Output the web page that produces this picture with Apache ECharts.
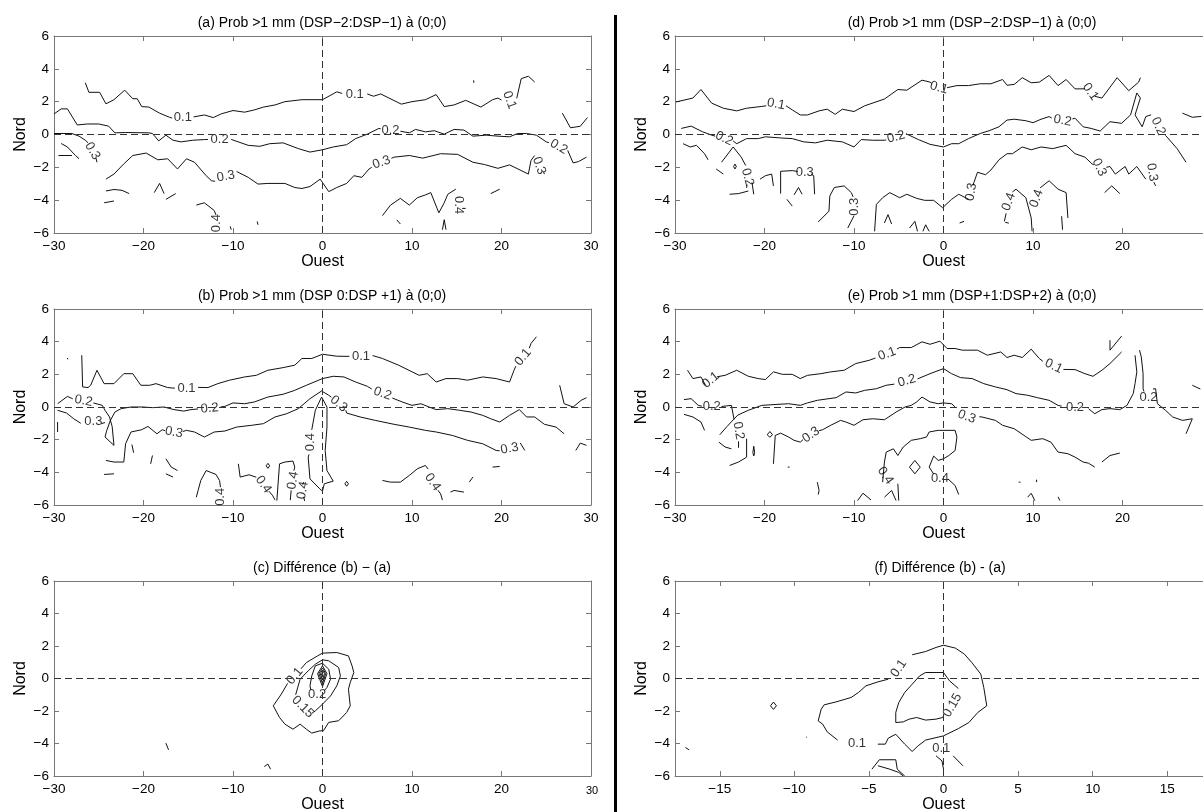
<!DOCTYPE html>
<html><head><meta charset="utf-8">
<script src="https://cdn.jsdelivr.net/npm/echarts@6/dist/echarts.min.js"></script>
<style>html,body{margin:0;padding:0;background:#fff}#c{width:1203px;height:812px}</style>
</head><body><div id="c"></div>
<script>
// ---------- tick labels ----------
const X_TICKS_WIDE = [-30,-20,-10,0,10,20,30];
const X_TICKS_F = [-15,-10,-5,0,5,10,15];
const Y_TICKS = [-6,-4,-2,0,2,4,6];

// ---------- titles ----------
const TITLE_A = '(a) Prob >1 mm (DSP\u22122:DSP\u22121) \u00e0 (0;0)';
const TITLE_B = '(b) Prob >1 mm (DSP 0:DSP +1) \u00e0 (0;0)';
const TITLE_C = '(c) Diff\u00e9rence (b) \u2212 (a)';
const TITLE_D = '(d) Prob >1 mm (DSP\u22122:DSP\u22121) \u00e0 (0;0)';
const TITLE_E = '(e) Prob >1 mm (DSP+1:DSP+2) \u00e0 (0;0)';
const TITLE_F = '(f) Diff\u00e9rence (b) - (a)';

// ---------- panel (a) contour segments [x (Ouest), y (Nord)] ----------
const A_01 = [
 [[-26.5,3.15],[-26.1,2.57],[-24.9,2.57],[-24.2,1.87],[-23.3,2.12],[-22.1,2.7],[-21.2,2.18],[-20.7,2.18],[-20.2,1.7],[-19.4,1.67],[-18.2,1.3],[-17.1,1.05],[-16.8,1.0]],
 [[-14.4,1.07],[-13.2,1.19],[-12.2,1.03],[-11.3,1.26],[-10,1.46],[-8.7,1.36],[-7.6,1.5],[-6.6,1.67],[-5.3,1.8],[-4.2,2.0],[-2.3,2.12],[0,2.12],[1.6,2.6],[2.2,2.5]],
 [[5.0,2.47],[5.7,2.33],[6.5,2.47],[8.8,1.85],[10,2.0],[11.5,2.12],[12.7,2.43],[13.6,1.7],[14.7,1.8],[16,2.08],[17.7,1.67],[19,2.12],[19.6,2.22],[20.0,2.1]],
 [[21.7,2.2],[22.2,3.4],[23,3.55],[23.7,3.2]],
 [[26.8,1.3],[27.7,0.41],[28.8,0.5],[29.6,1.03]],
 [[16.9,3.3],[16.9,3.15]]
];
const A_02 = [
 [[-30,1.25],[-29.2,1.56],[-28.5,1.56],[-27.4,0.58],[-26.3,0.64],[-25,0.64],[-23.9,0.51],[-23.2,0.1],[-22,0.12],[-19.4,0.1],[-19,0.06],[-18.3,-0.39],[-17.5,-0.04],[-16.7,-0.35],[-15.8,-0.45],[-14.5,-0.35],[-13.2,-0.31],[-12.8,-0.3]],
 [[-10.2,-0.3],[-10,-0.31],[-8.3,-0.66],[-7,-0.72],[-5.9,-0.56],[-4.4,-0.51],[-2.7,-0.86],[-1.4,-1.07],[0,-0.93],[1.2,-0.76],[2.7,-0.62],[3.7,-0.25],[5,0.02],[6.3,0.37],[6.5,0.35]],
 [[8.7,0.2],[9.7,0.1],[10.4,0.31],[11.5,0.16],[12.5,0.23],[13.6,0.02],[14.7,0.31],[15.8,0.27],[16.8,-0.1],[18.3,-0.04],[19.6,-0.1],[20.9,-0.14],[21.8,0.06],[22.8,0.06],[23.9,-0.04],[25,-0.45],[25.3,-0.5]],
 [[27.4,-0.97],[28,-1.73],[28.6,-1.65],[29.5,-1.38]]
];
const A_03 = [
 [[-30,0.06],[-28,0.06],[-27.2,-0.1],[-26.5,-0.35],[-26.2,-0.5]],
 [[-25.3,-1.45],[-25.2,-1.69]],
 [[-29.2,-0.55],[-28.5,-0.76],[-27.6,-1.28],[-27.2,-1.48]],
 [[-29.5,-1.28],[-28,-1.28]],
 [[-24.2,-2.72],[-23.3,-2.41],[-22.2,-1.79],[-21.2,-1.28],[-19.7,-1.13],[-18.4,-1.54],[-17.3,-1.48],[-16.2,-2.1],[-15.2,-1.48],[-14.3,-1.69],[-13,-2.51],[-12.4,-2.82],[-12.0,-2.85]],
 [[-9.6,-2.25],[-9.4,-2.2],[-8.3,-2.61],[-7.2,-3.02],[-6.1,-2.98],[-4.2,-2.98],[-3.1,-3.23],[-2.3,-3.29],[-1.4,-3.17],[-0.26,-2.72],[0.7,-3.48],[1.6,-3.23],[2.7,-2.98],[3.5,-2.51],[4.4,-2.61],[5.2,-2.1],[5.5,-2.0]],
 [[7.7,-1.45],[8,-1.38],[9.7,-1.28],[11.2,-1.44],[13.2,-1.17],[15.1,-1.21],[16.8,-1.69],[18.1,-1.83],[19.6,-2.06],[20.9,-1.85],[23,-2.41],[23.3,-1.58],[23.7,-1.28]],
 [[24.7,-2.3],[24.8,-2.41]],
 [[-24.2,-3.44],[-23.3,-3.35],[-22.4,-3.4],[-21.6,-3.6]],
 [[-24.4,-4.16],[-23.3,-4.05]],
 [[-18.8,-3.54],[-18.2,-2.98],[-17.7,-3.6]],
 [[-17.5,-3.95],[-16.4,-3.6]],
 [[18.8,-3.6],[19.8,-3.33]]
];
const A_04 = [
 [[-14.1,-4.3],[-13.2,-4.16],[-12.1,-4.63],[-11.9,-4.9]],
 [[-10.3,-5.6],[-10.2,-5.8]],
 [[-7.3,-5.3],[-7.2,-5.5]],
 [[6.7,-4.94],[7.6,-4.3],[8.7,-3.89],[9.7,-4.3],[10.6,-3.85],[11.5,-3.68],[12.1,-3.54],[13,-4.77],[13.6,-4.16],[14,-3.64],[14.9,-3.33]],
 [[15.6,-4.5],[16.0,-4.5]],
 [[8.3,-5.2],[8.7,-5.45]],
 [[13.4,-5.8],[13.6,-5.19],[13.8,-5.8]]
];
const A_LABELS = [
 [-15.6,1.02,'0.1',0],[3.6,2.45,'0.1',0],[20.9,2.1,'0.1',-70],
 [-11.5,-0.32,'0.2',0],[7.6,0.25,'0.2',0],[26.4,-0.75,'0.2',-30],
 [-25.7,-1.0,'0.3',-60],[-10.8,-2.55,'0.3',10],[6.6,-1.7,'0.3',20],[24.2,-1.9,'0.3',-70],
 [-11.8,-5.4,'0.4',90],[15.2,-4.3,'0.4',-90]
];

// ---------- panel (b) ----------
const B_01 = [
 [[-26.9,3.17],[-26.8,1.23],[-26.2,1.19],[-25.9,1.33],[-25.2,2.25],[-24.4,1.43],[-23.3,1.43],[-22.2,2.04],[-21.2,2.04],[-20.3,1.33],[-19.3,1.33],[-18.6,1.43],[-17.3,1.19],[-16.5,1.15]],
 [[-13.9,1.2],[-12.8,1.19],[-11.7,1.43],[-10.4,1.64],[-8.7,1.84],[-7.4,1.94],[-6.1,2.25],[-4.4,2.41],[-3.1,2.56],[-2.3,2.97],[-1.2,2.97],[0,3.23],[1.6,3.11],[3.0,3.1]],
 [[5.6,3.15],[6.7,2.97],[8.5,2.56],[10.8,1.94],[11.7,2.04],[12.7,1.53],[13.8,1.74],[15.1,1.74],[16.2,1.64],[17.9,1.84],[19.4,1.74],[20.9,1.53],[21.4,2.25],[21.6,2.5]],
 [[23.1,3.6],[23.3,3.89],[23.9,4.3]],
 [[-28.5,3.0],[-28.45,2.92]],
 [[26.5,1.33],[27,0.2],[28,0],[28.9,0.41],[29.5,0.57]]
];
const B_02 = [
 [[-29.6,0.2],[-28.5,0.65],[-27.9,0.5]],
 [[-25.6,0.25],[-24.6,0.1],[-24.3,-0.2],[-23.8,-0.61],[-23.5,-1.2],[-23.3,-2.35],[-24.3,-1.84],[-24.1,-1.43],[-23.7,-0.82],[-23.2,-0.31],[-22.5,-0.1],[-21.4,0],[-20.1,0],[-19,-0.04],[-17.7,0],[-16.6,-0.16],[-15.5,-0.25],[-14.7,-0.16],[-13.9,-0.12]],
 [[-11.4,0],[-10.9,0.04],[-10,0.25],[-8.7,0.2],[-7.6,0.31],[-6.1,0.61],[-4.4,0.78],[-3.1,1.02],[-1.8,1.33],[0,1.74],[1.2,1.88],[2.4,1.84],[3.7,1.53],[5,1.27],[5.5,1.1]],
 [[7.8,0.55],[8.9,0.31],[10,0.1],[11,0.2],[11.9,0],[12.7,-0.16],[14,-0.1],[15.3,-0.2],[16.6,-0.31],[17.9,-0.51],[18.8,-0.72],[19.8,-0.92],[20.9,-0.51],[22,-0.16],[22.8,-0.61],[23.7,-0.61],[24.8,-1.06],[26.1,-1.23],[27,-1.64]]
];
const B_03 = [
 [[-29.6,-0.2],[-28.6,-0.37],[-27.8,-0.72],[-27.0,-1.0]],
 [[-24.7,-1.02],[-24.3,-0.95]],
 [[-24.2,-3.27],[-23.3,-3.37],[-22.2,-3.37],[-22,-2.25],[-21.4,-1.53],[-20.2,-1.39],[-19.5,-1.19],[-18.5,-1.64],[-17.9,-1.39],[-17.6,-1.45]],
 [[-15.6,-1.5],[-15.2,-1.43],[-14.3,-1.53],[-13.2,-1.84],[-12.1,-1.53],[-10.9,-1.47],[-9.6,-1.23],[-7.9,-1.12],[-6.6,-1.02],[-5.3,-0.61],[-4,-0.41],[-2.7,-0.1],[-1.4,0.51],[-0.1,0.98],[0.7,0.72],[1.0,0.6]],
 [[2.6,-0.2],[2.7,-0.37],[4.2,-0.61],[5.9,-0.82],[8,-1.06],[9.7,-1.23],[11.5,-1.43],[12.7,-1.53],[14.5,-1.74],[16.2,-2.04],[17.9,-2.25],[19.4,-2.66],[19.8,-2.68]],
 [[22.1,-2.2],[22.6,-2.66]],
 [[28.3,-2.66],[28.8,-2.21],[29.5,-2.35]],
 [[-29.6,-0.92],[-29.6,-1.53]],
 [[-21.3,-2.3],[-21.1,-2.8]],
 [[-19,-2.97],[-19.2,-3.48]],
 [[-17.5,-3.17],[-16.9,-3.68],[-16.2,-3.89]],
 [[-17.5,-4.09],[-16.7,-4.29]],
 [[-24.4,-4.13],[-23.3,-4.09]]
];
const B_04 = [
 [[-0.1,0.61],[-0.8,-0.2],[-1.2,-1.4]],
 [[-1.5,-2.9],[-1.6,-3.07],[-1.4,-4.4],[-0.3,-5.01],[0,-5.15],[0.2,-4.7],[1.2,-4.54],[0.5,-3.89],[0.3,-2.66],[0.5,-1.23],[0.5,0],[-0.1,0.61]],
 [[-14.1,-5.52],[-13.9,-5.11],[-13.6,-4.5],[-13,-3.89],[-11.9,-4.13],[-11.5,-4.5],[-11.4,-4.91]],
 [[-9.4,-3.48],[-9.2,-4.29],[-8.2,-4.15],[-7.4,-4.3]],
 [[-6.0,-5.15],[-5.6,-5.4],[-5.3,-5.69]],
 [[-6.3,-3.6],[-6.1,-3.45],[-5.9,-3.6],[-6.1,-3.75],[-6.3,-3.6]],
 [[-5.1,-5.73],[-4.8,-3.48],[-4.2,-3.37],[-3.3,-3.31],[-3.1,-3.68],[-3.2,-3.9]],
 [[-3.5,-5.1],[-3.6,-5.7]],
 [[-2.1,-4.6],[-2.2,-4.75]],
 [[-2.1,-5.5],[-2.0,-5.75]],
 [[2.5,-4.7],[2.7,-4.55],[2.9,-4.7],[2.7,-4.85],[2.5,-4.7]],
 [[6.7,-4.5],[7.6,-4.6],[8.7,-4.6],[9.7,-4.19],[10.6,-3.78],[11.5,-3.58],[11.8,-3.8]],
 [[12.9,-5.1],[13.2,-5.32],[13.4,-5.7]],
 [[14.3,-5.21],[14.7,-5.11],[15.8,-5.21]],
 [[16.4,-4.6],[16.8,-4.29]],
 [[19,-3.68],[19.8,-3.64]]
];
const B_LABELS = [
 [-15.2,1.12,'0.1',0],[4.3,3.12,'0.1',0],[22.4,3.05,'0.1',50],
 [-26.7,0.38,'0.2',-10],[-12.6,-0.08,'0.2',5],[6.7,0.82,'0.2',-20],
 [-25.6,-0.9,'0.3',0],[-16.6,-1.55,'0.3',-10],[1.8,0.2,'0.3',-40],[20.9,-2.55,'0.3',10],
 [-1.35,-2.15,'0.4',90],[-11.4,-5.5,'0.4',90],[-6.6,-4.75,'0.4',-55],[-3.3,-4.5,'0.4',80],[-2.2,-5.1,'0.4',80],[12.3,-4.6,'0.4',-55]
];

// ---------- panel (c) ----------
const C_010 = [
 [[-5.5,-1.68],[-4.6,-0.96],[-3.9,-0.3]],
 [[-2.4,0.6],[-1.8,0.98],[-0.56,1.39],[0,1.56],[1.6,1.6],[2.9,1.39],[3.3,0.78],[3.5,0.37],[3.1,-0.25],[2.9,-0.66],[3.1,-1.68],[2.7,-2.09],[1.8,-2.6],[0.7,-2.7],[0.1,-3.22],[-0.3,-3.22],[-1.2,-3.36],[-1.8,-3.12],[-2.5,-2.81],[-3.3,-3.12],[-4.2,-2.81],[-4.8,-2.4],[-5.5,-1.68]],
 [[-17.5,-3.98],[-17.2,-4.39]],
 [[-6.5,-5.42],[-6.1,-5.27],[-5.8,-5.58]]
];
const C_015 = [
 [[-3.0,-1.0],[-2.5,-0.04],[-1.6,0.47],[-0.8,0.88],[0,1.15],[0.7,1.09],[1.8,0.68],[2,0.16],[1.6,-0.45],[0.9,-1.07],[0,-1.58],[-0.8,-1.99],[-1.2,-2.15]]
];
const C_020 = [
 [[-1.3,-0.7],[-1.4,-0.45],[-1.2,0.16],[-0.8,0.78],[0,0.94],[0.7,0.57],[0.9,-0.04],[0.5,-0.55],[0.2,-0.75]],
 [[-0.55,0.3],[0,0.78],[0.5,0.3],[0,-0.5],[-0.55,0.3]],
 [[-0.4,0.3],[0,0.65],[0.35,0.3],[0,-0.3],[-0.4,0.3]],
 [[-0.25,0.3],[0,0.52],[0.22,0.3],[0,-0.1],[-0.25,0.3]],
 [[-0.1,0.3],[0,0.4],[0.1,0.3],[0,0.12],[-0.1,0.3]]
];
const C_LABELS = [
 [-3.1,0.15,'0.1',50],[-0.6,-1.0,'0.2',0],[-2.2,-1.75,'0.15',-45]
];

// ---------- panel (d) ----------
const D_01 = [
 [[-29.9,1.98],[-28,2.22],[-27.1,2.74],[-25.9,1.91],[-24.6,1.6],[-23.1,1.44],[-22,1.6],[-20.3,1.71],[-19.8,1.75]],
 [[-17.6,1.75],[-16.9,1.5],[-16,1.19],[-15.2,1.19],[-13.9,1.44],[-13,1.54],[-12.1,1.23],[-11.3,1.54],[-10,1.4],[-8.8,1.75],[-6.6,2.16],[-5.1,2.74],[-4.1,2.7],[-2.4,3.31],[-1.5,3.19],[-1.3,3.1]],
 [[0.4,2.85],[1.5,2.98],[2.8,2.98],[4.1,3.09],[5.3,3.09],[6.6,3.35],[7.1,3.0],[7.9,3.05],[8.8,3.46],[9.8,3.15],[10.7,3.19],[11.8,3.6],[12.8,2.98],[13.7,3.35],[14.7,2.78],[15.6,2.78],[15.8,2.8]],
 [[16.9,2.33],[17.7,2.22],[19.4,3.46],[20.7,2.67],[21.8,3.19],[22,3.46]],
 [[26.7,1.3],[27.8,1.05],[28.8,1.1]]
];
const D_02 = [
 [[-29.3,0.37],[-28.2,0.51],[-26.9,0.16],[-25.9,-0.04],[-25.5,-0.1]],
 [[-23.5,-0.4],[-23.1,-0.56],[-22,-0.25],[-20.7,-0.25],[-19.9,-0.14],[-18.2,-0.21],[-16.9,-0.25],[-15.6,-0.45],[-14.3,-0.51],[-13,-0.35],[-11.3,-0.45],[-10,-0.76],[-9.2,-0.31],[-7.9,-0.35],[-6.6,-0.35],[-6.4,-0.33]],
 [[-4.2,0.05],[-2.8,-0.31],[-1.5,-0.6],[0,-0.76],[0.9,-0.56],[1.7,-0.56],[2.8,-0.25],[4.1,0.06],[5.1,0.23],[6.2,0.47],[7.1,0.88],[7.9,0.93],[9.2,0.84],[10,0.72],[10.9,0.93],[11.8,1.09],[12.1,1.0]],
 [[14.4,0.95],[14.7,0.99],[15.6,0.47],[16.5,0.37],[17.5,0.21],[18.6,0.78],[19.9,0.68],[20.9,1.19],[21.6,2.53],[22,2.22],[21.4,1.19],[22.2,0.47],[22.6,1.09],[23.2,1.2]],
 [[24.8,-0.05],[25,-0.14],[26.1,-0.86],[27.1,-1.69]],
 [[-29.1,-0.56],[-28.3,-0.76],[-27.6,-0.66],[-26.7,-1.17],[-26.3,-1.54]],
 [[-25.4,-2.1],[-24.6,-2.41]],
 [[-24.8,-1.69],[-23.5,-0.76],[-22.6,-1.38],[-22.1,-1.89]],
 [[-23.9,-3.64],[-22.9,-3.6],[-21.8,-3.44]],
 [[-21.95,-3.05],[-22.0,-3.25]],
 [[-23.3,-1.8],[-23.15,-1.95],[-23.3,-2.1],[-23.45,-1.95],[-23.3,-1.8]],
 [[-21.4,-2.92],[-21.2,-3.64]],
 [[-20.5,-2.72],[-19.9,-2.51],[-19.2,-2.41],[-19,-3.13]]
];
const D_03 = [
 [[-18.2,-3.6],[-18.2,-2.24],[-16.9,-2.2],[-16.3,-2.25]],
 [[-14.8,-2.4],[-14.5,-2.51],[-14.4,-3.64]],
 [[-17.5,-3.95],[-16.9,-4.36]],
 [[-16.7,-3.68],[-16.2,-3.23],[-15.8,-3.64]],
 [[-14,-5.33],[-12.8,-4.67],[-12.7,-3.74],[-12.2,-3.23],[-11.1,-3.13],[-10.3,-3.54],[-10.1,-3.8]],
 [[-10.0,-4.95],[-10.7,-5.7]],
 [[-7.7,-5.9],[-7.5,-4.26],[-6.8,-3.85],[-6,-3.54],[-4.9,-3.85],[-4.1,-3.64],[-3,-3.89],[-2.1,-4.01],[-1.1,-4.01],[-0.1,-4.46],[0.9,-3.95],[1.7,-3.64],[2.6,-3.89],[2.8,-3.95]],
 [[3.3,-3.1],[3.4,-2.92],[3.8,-2.3],[4.7,-2.45],[5.3,-2.16],[6.2,-1.54],[7.1,-1.17],[7.7,-1.17],[8.8,-0.76],[9.8,-0.93],[10.9,-0.76],[12.2,-0.86],[13.7,-0.66],[14.7,-1.17],[15.8,-1.38],[16.6,-1.79],[16.8,-1.85]],
 [[18.2,-2.0],[18.6,-1.95],[19.2,-2.41],[20.3,-1.95],[20.7,-2.41],[21.6,-1.95],[22.6,-2.72]],
 [[23.5,-2.9],[23.7,-3.13]],
 [[-6.6,-5.39],[-6.2,-4.88],[-5.8,-5.45]],
 [[-3.8,-5.7],[-3.2,-5.29],[-2.9,-5.9]],
 [[-2.3,-5.9],[-2.0,-5.5],[-1.6,-5.9]],
 [[18,-3.54],[18.8,-3.13],[19.7,-3.6]]
];
const D_04 = [
 [[6.8,-5.29],[7.0,-4.8]],
 [[7.7,-3.5],[8.1,-3.33],[9.2,-3.85],[9.8,-5.08],[9.9,-5.9]],
 [[10.8,-3.25],[11.8,-2.82],[12.8,-3.33],[13.7,-3.54],[13.9,-5.08]],
 [[13.2,-4.98],[13.3,-5.8]],
 [[1.8,-5.39],[2.3,-5.29]],
 [[6.9,-5.35],[7.3,-5.4]]
];
const D_LABELS = [
 [-18.7,1.85,'0.1',-10],[-0.5,2.85,'0.1',-15],[16.4,2.6,'0.1',-55],
 [-24.5,-0.25,'0.2',-25],[-5.3,-0.15,'0.2',15],[13.3,0.85,'0.2',-10],[24.0,0.5,'0.2',-65],[-21.9,-2.6,'0.2',-75],
 [-15.5,-2.3,'0.3',0],[-10.0,-4.4,'0.3',90],[3.1,-3.5,'0.3',80],[17.4,-2.0,'0.3',-65],[23.3,-2.3,'0.3',-80],
 [7.3,-4.1,'0.4',70],[10.4,-3.9,'0.4',70]
];

// ---------- panel (e) ----------
const E_01 = [
 [[-28.6,2.25],[-28,1.74],[-27.1,1.84],[-26.6,1.35]],
 [[-25.3,1.85],[-24.4,1.94],[-23.1,2.25],[-21.8,1.88],[-20.7,1.74],[-19.9,1.68],[-19,2.15],[-18,2.0],[-16.9,2.0],[-16,1.74],[-15.2,1.94],[-13.7,2.04],[-12.6,2.15],[-11.1,2.25],[-9.8,2.66],[-8.3,2.86],[-7.6,3.0]],
 [[-5.2,3.55],[-4.9,3.64],[-3.6,3.64],[-2.4,3.99],[-1.5,3.84],[-0.4,4.03],[0.4,3.58],[1.3,3.58],[2.1,3.48],[3.8,3.48],[4.9,3.17],[6.4,3.37],[7.1,3.03],[7.9,3.17],[8.8,3.03],[9.8,3.54],[10.7,2.97],[11.1,2.8]],
 [[13.4,2.3],[14.7,2.29],[15.8,2.04],[16.7,1.88],[17.7,2.25],[18.6,2.66],[19.9,3.37]],
 [[18.6,4.09],[18.6,3.48],[19.9,4.34]]
];
const E_02 = [
 [[-29,0.45],[-28.2,0.51],[-27.4,0.1],[-27.0,0.05]],
 [[-24.8,0.03],[-23.7,0.1],[-23.4,-0.75]],
 [[-22.9,-2.1],[-22.9,-2.5]],
 [[-25.0,-1.7],[-24.2,-1.2],[-23.0,-0.5],[-21.8,-0.2],[-20.3,0.1],[-18.6,0.16],[-17.3,0.2],[-16,0.1],[-15.2,0.25],[-14.1,0.41],[-12.8,0.51],[-12,0.57],[-10.9,0.92],[-9.8,0.86],[-8.8,1.02],[-7.5,1.12],[-6.4,1.33],[-5.5,1.4]],
 [[-2.9,1.72],[-1.5,2.04],[0,2.35],[0.9,2.04],[1.9,1.8],[3.2,1.74],[4.5,1.43],[5.8,1.23],[7.1,1.06],[8.1,0.82],[9.4,0.72],[10.5,0.57],[11.8,0.41],[12.8,0.1],[13.2,0.05]],
 [[16.2,-0.1],[16.9,-0.41],[17.7,-0.16],[18.6,-0.1],[19.7,-0.16],[20.5,0.1],[21.2,0.82],[21.4,1.43],[21.6,2.15],[21.4,3.17]],
 [[21.9,3.48],[22.1,3.07],[22.3,2.04],[22.3,1.12],[22.4,0.95]],
 [[23.4,1.1],[23.7,1.12],[23.9,0.2],[24.8,-0.2],[25.6,-0.61],[26.7,-0.82],[27.8,-0.72],[27.1,-1.64]],
 [[27.8,1.33],[28.7,1.1]]
];
const E_03 = [
 [[-29,-0.45],[-28,-0.61],[-27.1,-0.92],[-26.7,-1.43]],
 [[-25.1,-2.15],[-24.4,-2.45],[-23.7,-2.56]],
 [[-23.9,-3.58],[-22.9,-3.37],[-22,-3.07],[-22,-1.94]],
 [[-21.3,-2.8],[-21.2,-2.4],[-21.1,-2.8],[-21.2,-3.0],[-21.3,-2.8]],
 [[-19.7,-1.7],[-19.4,-1.5],[-19.1,-1.7],[-19.4,-1.85],[-19.7,-1.7]],
 [[-19,-3.48],[-18.8,-1.74],[-18.2,-1.6],[-17.3,-1.84],[-16.7,-2.04],[-16,-2.15],[-15.7,-2.0]],
 [[-13.9,-1.45],[-13.5,-1.39],[-12.6,-1.12],[-11.5,-0.82],[-10.9,-0.92],[-10,-1.12],[-9,-0.78],[-7.9,-0.72],[-6.6,-0.78],[-5.3,-0.31],[-4.3,0],[-3.6,0.1],[-3,0.31],[-2.4,0.61],[-1.5,0.31],[-0.6,0.2],[0,0.25],[0.9,0.2],[1.3,0.0]],
 [[4.0,-0.6],[4.3,-0.61],[5.8,-0.82],[6.6,-1.12],[7.9,-1.33],[9,-1.74],[9.8,-2.04],[11.1,-1.94],[12,-2.15],[12.8,-2.76],[13.9,-2.86],[14.7,-3.07],[15.6,-3.37],[16.2,-3.44],[16.9,-3.68]],
 [[17.7,-3.37],[18.6,-2.97],[19.7,-2.82]]
];
const E_04 = [
 [[-6.8,-4.6],[-6.6,-3.37],[-6.4,-2.76],[-5.6,-2.56],[-5.1,-2.97],[-4.5,-2.45],[-3.6,-2.04],[-2.6,-1.94],[-1.9,-1.84],[-1.6,-1.53],[-0.6,-1.43],[1.3,-1.43],[1.5,-1.84],[1.3,-2.66],[0.6,-2.97],[0,-3.17],[-0.6,-3.27],[-1.1,-3.0],[-1.6,-3.68],[-1.1,-4.1]],
 [[0.5,-4.4],[1.3,-4.81],[1.7,-5.36]],
 [[-3.8,-3.68],[-3.2,-3.27],[-2.6,-3.68],[-3.2,-4.09],[-3.8,-3.68]],
 [[-14.1,-4.6],[-13.9,-5.11],[-14,-5.36]],
 [[-9.6,-5.73],[-9,-5.28],[-8.1,-5.69]],
 [[-6.6,-5.52],[-5.8,-5.11],[-5.3,-5.73]],
 [[-5.1,-4.7],[-5.0,-5.73]],
 [[9.4,-5.52],[9.8,-5.28],[10.2,-5.73]],
 [[12.8,-5.5],[13.0,-5.73]],
 [[-17.4,-3.68],[-17.3,-3.62],[-17.2,-3.68],[-17.3,-3.74],[-17.4,-3.68]],
 [[8.4,-4.6],[8.5,-4.55],[8.6,-4.6],[8.5,-4.65],[8.4,-4.6]],
 [[10.4,-4.45],[10.4,-4.6]]
];
const E_LABELS = [
 [-26.0,1.65,'0.1',40],[-6.3,3.25,'0.1',20],[12.3,2.5,'0.1',-25],
 [-25.9,0.02,'0.2',0],[-22.9,-1.45,'0.2',-80],[-4.1,1.6,'0.2',15],[14.7,0.0,'0.2',0],[22.9,0.6,'0.2',0],
 [-14.8,-1.7,'0.3',35],[2.6,-0.6,'0.3',-20],
 [-6.5,-4.2,'0.4',-55],[-0.4,-4.35,'0.4',0]
];

// ---------- panel (f) ----------
const F_010 = [
 [[-2.1,1.46],[-1.2,1.66],[-0.5,1.91],[0,2.05],[0.8,1.87],[1.4,1.5],[1.9,0.98],[2.5,0.27],[2.7,-0.55],[2.9,-1.68],[2.3,-2.09],[1.7,-2.71],[1,-3.08],[0,-3.53],[-1.2,-3.79],[-1.7,-4.14],[-2.1,-4.49],[-2.6,-4.04],[-3.2,-3.43],[-3.7,-3.67],[-3.9,-4.04],[-4.4,-4.04]],
 [[-7.1,-3.79],[-7.8,-3.28],[-8.1,-2.81],[-8.4,-2.61],[-8.2,-1.89],[-8,-1.62],[-7.2,-1.44],[-6.2,-1.17],[-5.7,-0.86],[-5.2,-0.45],[-4.4,-0.21],[-3.7,-0.04]],
 [[0,-5.58],[0,-6]],
 [[-0.5,-4.76],[-0.1,-5.07],[0,-5.58]],
 [[0.65,-4.76],[1.3,-5.37]],
 [[-4.8,-5.58],[-4.3,-5.0],[-3.2,-5.0],[-3.1,-5.58],[-2.6,-6]],
 [[-4.4,-5.37],[-3.6,-5.58],[-3,-5.78],[-2.7,-6]],
 [[-11.6,-1.68],[-11.4,-1.45],[-11.2,-1.68],[-11.4,-1.9],[-11.6,-1.68]],
 [[-17.3,-4.25],[-17.05,-4.39]],
 [[-9.2,-3.6],[-9.15,-3.63]]
];
const F_015 = [
 [[1,-0.62],[0.4,-0.14],[0,0.37],[-0.5,0.37],[-1.2,0.37],[-1.6,0.16],[-2.1,-0.35],[-2.6,-0.86],[-3,-1.48],[-3.2,-2.09],[-3.2,-2.71],[-2.7,-2.67],[-2.3,-2.5],[-1.8,-2.4],[-1.2,-2.56],[-0.5,-2.5],[-0.05,-2.4],[0,-2.3]]
];
const F_LABELS = [
 [-3.0,0.62,'0.1',55],[-5.8,-4.02,'0.1',0],[-0.15,-4.3,'0.1',0],[0.6,-1.65,'0.15',60]
];

// ---------- build chart ----------
const FONT = '"Liberation Sans", Arial, Helvetica, sans-serif';
const AXIS_COLOR = '#777';
const PANELS = [
 {left:54, top:36, w:537, h:197, title:TITLE_A, tx:322, ty:23, xmin:-30, xmax:30, xt:X_TICKS_WIDE, lines:[A_01,A_02,A_03,A_04], labels:A_LABELS},
 {left:54, top:309, w:537, h:196, title:TITLE_B, tx:322, ty:296, xmin:-30, xmax:30, xt:X_TICKS_WIDE, lines:[B_01,B_02,B_03,B_04], labels:B_LABELS},
 {left:54, top:581, w:537, h:195, title:TITLE_C, tx:322, ty:568, xmin:-30, xmax:30, xt:X_TICKS_WIDE, lines:[C_010,C_015,C_020], labels:C_LABELS, small30:true},
 {left:675, top:36, w:537, h:197, title:TITLE_D, tx:972, ty:23, xmin:-30, xmax:30, xt:X_TICKS_WIDE, lines:[D_01,D_02,D_03,D_04], labels:D_LABELS},
 {left:675, top:309, w:537, h:196, title:TITLE_E, tx:972, ty:296, xmin:-30, xmax:30, xt:X_TICKS_WIDE, lines:[E_01,E_02,E_03,E_04], labels:E_LABELS},
 {left:675, top:581, w:537, h:195, title:TITLE_F, tx:940, ty:568, xmin:-18, xmax:18, xt:X_TICKS_F, lines:[F_010,F_015], labels:F_LABELS}
];

const fmt = v => String(v).replace('-', '\u2212');
const grid = [], xAxis = [], yAxis = [], series = [], graphic = [];

PANELS.forEach((p, i) => {
  grid.push({left:p.left, top:p.top, width:p.w, height:p.h, containLabel:false, outerBoundsMode:'none'});
  const tick = {show:true, inside:true, length:5, lineStyle:{color:AXIS_COLOR}, customValues:p.xt};
  const line = {show:true, onZero:false, lineStyle:{color:AXIS_COLOR, width:1}};
  xAxis.push({type:'value', gridIndex:i, position:'bottom', min:p.xmin, max:p.xmax,
    axisLine:line, axisTick:tick, splitLine:{show:false},
    axisLabel:{show:true, customValues:p.xt, color:'#000', fontSize:13.5, fontFamily:FONT, margin:6,
      formatter: v => (p.small30 && v === 30) ? '{s|30}' : fmt(v),
      rich:{s:{fontSize:11, fontFamily:FONT, color:'#000', padding:[3,0,0,2]}}},
    name:'Ouest', nameLocation:'middle', nameGap:19,
    nameTextStyle:{color:'#000', fontSize:16, fontFamily:FONT}});
  xAxis.push({type:'value', gridIndex:i, position:'top', min:p.xmin, max:p.xmax,
    axisLine:line, axisTick:tick, axisLabel:{show:false, customValues:p.xt}, splitLine:{show:false}});
  const ytick = {show:true, inside:true, length:5, lineStyle:{color:AXIS_COLOR}, customValues:Y_TICKS};
  yAxis.push({type:'value', gridIndex:i, position:'left', min:-6, max:6,
    axisLine:line, axisTick:ytick, splitLine:{show:false},
    axisLabel:{show:true, customValues:Y_TICKS, color:'#000', fontSize:13.5, fontFamily:FONT, margin:5, formatter:fmt},
    name:'Nord', nameLocation:'middle', nameGap:25, nameRotate:90,
    nameTextStyle:{color:'#000', fontSize:16, fontFamily:FONT}});
  yAxis.push({type:'value', gridIndex:i, position:'right', min:-6, max:6,
    axisLine:line, axisTick:ytick, axisLabel:{show:false, customValues:Y_TICKS}, splitLine:{show:false}});

  const xi = 2*i;
  // dashed reference lines at x=0 and y=0
  series.push({type:'line', xAxisIndex:xi, yAxisIndex:xi, data:[[0,0]], symbol:'none', lineStyle:{opacity:0},
    silent:true, animation:false, z:1,
    markLine:{silent:true, animation:false, symbol:['none','none'], label:{show:false},
      lineStyle:{type:[7,4], color:'#333', width:1}, emphasis:{disabled:true},
      data:[{xAxis:0},{yAxis:0}]}});
  p.lines.forEach(level => level.forEach(seg => {
    series.push({type:'line', xAxisIndex:xi, yAxisIndex:xi, data:seg, symbol:'none', showSymbol:false,
      lineStyle:{color:'#111', width:1}, silent:true, animation:false, clip:true, z:3});
  }));
  series.push({type:'scatter', xAxisIndex:xi, yAxisIndex:xi, symbol:'circle', symbolSize:1,
    itemStyle:{color:'rgba(0,0,0,0)'}, silent:true, animation:false, z:4,
    data:p.labels.map(l => ({value:[l[0], l[1]], name:l[2], label:{rotate:l[3]}})),
    label:{show:true, position:'inside', formatter: q => q.name, color:'#000', fontSize:13, fontFamily:FONT}});

  graphic.push({type:'text', x:p.tx, y:p.ty, silent:true,
    style:{text:p.title, fill:'#000', fontSize:14, fontFamily:FONT, align:'center', verticalAlign:'middle'}});
});

graphic.push({type:'rect', silent:true, shape:{x:614, y:15, width:3, height:797}, style:{fill:'#000'}});

const chart = echarts.init(document.getElementById('c'), null, {renderer:'canvas'});
chart.setOption({animation:false, backgroundColor:'#fff', grid, xAxis, yAxis, series, graphic});
</script>
</body></html>
